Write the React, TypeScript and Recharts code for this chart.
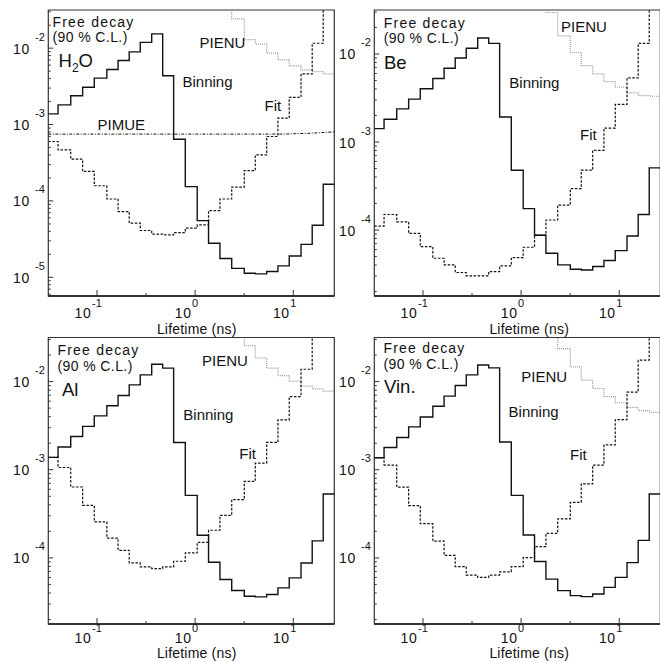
import React from 'react'
import { LineChart, Line, XAxis, YAxis, ReferenceArea } from 'recharts'

// bin edges (lifetime in ns), shared by all four panels
const EDGES = [
  0.0319, 0.0401, 0.054, 0.0714, 0.0938, 0.126, 0.164, 0.213, 0.276, 0.361, 0.467, 0.604, 0.794,
  1.05, 1.37, 1.79, 2.36, 3.17, 4.1, 5.36, 6.98, 9.1, 12.0, 15.6, 20.2, 26.2,
]
const OVER = 0.1 // bin lies above the top of the frame

const X_MIN = 0.0319
const X_MAX = 26.2
const X_TICKS = [0.1, 0.316, 1, 3.16, 10]

const Y_RANGE_H2O: [number, number] = [5.69e-6, 3.16e-2]
const Y_RANGE: [number, number] = [1.78e-5, 3.16e-2]
const Y_DECADES_H2O = [1e-5, 1e-4, 1e-3, 1e-2]
const Y_DECADES = [1e-4, 1e-3, 1e-2]

// H2O
const H2O_BINNING = [
  1.38e-3, 1.81e-3, 2.38e-3, 3.08e-3, 4.05e-3, 5.26e-3, 6.89e-3, 8.95e-3, 1.19e-2, 1.54e-2, 4.35e-3,
  6.43e-4, 1.54e-4, 5.52e-5, 2.79e-5, 1.76e-5, 1.31e-5, 1.13e-5, 1.11e-5, 1.19e-5, 1.41e-5, 1.9e-5,
  2.7e-5, 4.8e-5, 1.65e-4,
]
const H2O_FIT = [
  6.0e-4, 4.67e-4, 3.52e-4, 2.43e-4, 1.58e-4, 1.06e-4, 7.26e-5, 5.12e-5, 4.1e-5, 3.67e-5, 3.6e-5,
  3.85e-5, 4.41e-5, 4.86e-5, 7.48e-5, 1.06e-4, 1.52e-4, 2.5e-4, 4.01e-4, 6.97e-4, 1.21e-3, 2.27e-3,
  4.61e-3, 1.16e-2, OVER,
]
const H2O_PIENU = [
  OVER, OVER, OVER, OVER, OVER, OVER, OVER, OVER, OVER, OVER, OVER, OVER, OVER, OVER, OVER, OVER,
  2.42e-2, 1.29e-2, 1.13e-2, 8.61e-3, 7.03e-3, 5.86e-3, 5.2e-3, 4.94e-3, 4.61e-3,
]
const PIMUE_X = [0.0319, 8, 15, 26.2]
const PIMUE_Y = [7.5e-4, 7.5e-4, 7.7e-4, 8.0e-4]

// Be
const BE_BINNING = [
  1.42e-3, 1.81e-3, 2.38e-3, 3.07e-3, 4.02e-3, 5.26e-3, 6.89e-3, 9.02e-3, 1.16e-2, 1.52e-2, 1.32e-2,
  1.92e-3, 4.78e-4, 1.75e-4, 8.71e-5, 5.45e-5, 4.02e-5, 3.59e-5, 3.52e-5, 3.85e-5, 4.5e-5, 5.83e-5,
  8.55e-5, 1.5e-4, 5.08e-4,
]
const BE_FIT = [
  1.11e-4, 1.5e-4, 1.24e-4, 9.16e-5, 6.47e-5, 4.78e-5, 4.02e-5, 3.29e-5, 3.01e-5, 3.01e-5, 3.37e-5,
  3.91e-5, 4.86e-5, 6.37e-5, 8.77e-5, 1.3e-4, 1.92e-4, 2.96e-4, 4.78e-4, 8.05e-4, 1.44e-3, 2.67e-3,
  5.35e-3, 1.32e-2, OVER,
]
const BE_PIENU = [
  OVER, OVER, OVER, OVER, OVER, OVER, OVER, OVER, OVER, OVER, OVER, OVER, OVER, OVER, OVER,
  2.96e-2, 1.61e-2, 1.04e-2, 7.36e-3, 5.94e-3, 4.85e-3, 4.19e-3, 3.61e-3, 3.37e-3, 3.31e-3,
]

// Al
const AL_BINNING = [
  1.38e-3, 1.81e-3, 2.38e-3, 3.1e-3, 4.08e-3, 5.31e-3, 6.95e-3, 9.16e-3, 1.19e-2, 1.57e-2, 1.42e-2,
  2.04e-3, 5.12e-4, 1.81e-4, 8.93e-5, 5.69e-5, 4.27e-5, 3.68e-5, 3.61e-5, 3.85e-5, 4.57e-5, 5.94e-5,
  8.77e-5, 1.56e-4, 5.31e-4,
]
const AL_FIT = [
  1.38e-3, 1.06e-3, 6.37e-4, 3.94e-4, 2.56e-4, 1.68e-4, 1.22e-4, 8.77e-5, 7.91e-5, 7.57e-5, 7.91e-5,
  9.16e-5, 1.14e-4, 1.5e-4, 2.06e-4, 3.04e-4, 4.57e-4, 7.38e-4, 1.19e-3, 2.04e-3, 3.68e-3, 6.76e-3,
  1.38e-2, OVER, OVER,
]
const AL_PIENU = [
  OVER, OVER, OVER, OVER, OVER, OVER, OVER, OVER, OVER, OVER, OVER, OVER, OVER, OVER, OVER, OVER, OVER,
  2.56e-2, 1.85e-2, 1.42e-2, 1.17e-2, 1.01e-2, 8.87e-3, 8.26e-3, 7.78e-3,
]

// Vin.
const VIN_BINNING = [
  1.37e-3, 1.79e-3, 2.32e-3, 3.06e-3, 3.96e-3, 5.24e-3, 6.84e-3, 9.02e-3, 1.19e-2, 1.54e-2, 1.43e-2,
  2.06e-3, 5.12e-4, 1.82e-4, 9.1e-5, 5.75e-5, 4.26e-5, 3.73e-5, 3.64e-5, 3.9e-5, 4.63e-5, 6.01e-5,
  8.85e-5, 1.58e-4, 5.3e-4,
]
const VIN_FIT = [
  1.37e-3, 1.13e-3, 6.35e-4, 3.92e-4, 2.45e-4, 1.55e-4, 1.07e-4, 7.98e-5, 6.38e-5, 6.0e-5, 6.38e-5,
  6.95e-5, 7.98e-5, 1.01e-4, 1.34e-4, 1.9e-4, 2.77e-4, 4.27e-4, 6.93e-4, 1.13e-3, 1.91e-3, 3.7e-3,
  7.59e-3, 1.75e-2, OVER,
]
const VIN_PIENU = [
  OVER, OVER, OVER, OVER, OVER, OVER, OVER, OVER, OVER, OVER, OVER, OVER, OVER, OVER, OVER, OVER,
  2.36e-2, 1.47e-2, 1.04e-2, 8.34e-3, 6.73e-3, 5.75e-3, 5.09e-3, 4.68e-3, 4.48e-3,
]

const FONT = '"Liberation Sans", Arial, Helvetica, sans-serif'
const INK = '#111'
const AXIS = '#333'

// one point per bin edge, last bin repeated so stepAfter closes it
const steps = (vals: number[]) => [
  ...vals.map((v, i) => ({ x: EDGES[i], y: v })),
  { x: EDGES[EDGES.length - 1], y: vals[vals.length - 1] },
]

// decades plus 2..9 subdivisions inside the range
function logTicks(range: [number, number], decades: number[]) {
  const out: number[] = []
  for (const d of [decades[0] / 10, ...decades]) {
    for (let m = 1; m < 10; m++) {
      const v = m === 1 ? d : m * d
      if (v >= range[0] && v <= range[1]) out.push(v)
    }
  }
  return out
}

function XTick(props: any) {
  const { x, y, payload, dy10, dySup } = props
  const e = Math.log10(payload.value)
  const major = Math.abs(e - Math.round(e)) < 0.01
  const exp = String(Math.round(e))
  const half = exp.length > 1 ? 5.6 : 3.5
  return (
    <g>
      <line x1={x} x2={x} y1={y} y2={y - (major ? 6 : 3)} stroke={AXIS} strokeWidth={1} />
      {major && (
        <>
          <text x={x - half} y={y + dy10} textAnchor="end" fontSize={14} fontFamily={FONT} fill={INK} letterSpacing={0.6}>
            10
          </text>
          <text x={x} y={y + dySup} textAnchor="middle" fontSize={11} fontFamily={FONT} fill={INK}>
            {exp}
          </text>
        </>
      )}
    </g>
  )
}

function YTick(props: any) {
  const { x, y, payload, decades } = props
  const major = decades.includes(payload.value)
  const exp = String(Math.round(Math.log10(payload.value)))
  return (
    <g>
      <line x1={x} x2={x + (major ? 5 : 2.5)} y1={y} y2={y} stroke={AXIS} strokeWidth={1} />
      {major && (
        <>
          <text x={x - 18.5} y={y + 5.5} textAnchor="end" fontSize={14} fontFamily={FONT} fill={INK} letterSpacing={0.6}>
            10
          </text>
          <text x={x - 3.5} y={y - 7.5} textAnchor="end" fontSize={11} fontFamily={FONT} fill={INK}>
            {exp}
          </text>
        </>
      )}
    </g>
  )
}

interface PanelProps {
  left: number
  top: number
  width: number
  height: number
  padTop: number
  padLeft: number
  padRight: number
  padBottom: number
  yRange: [number, number]
  decades: number[]
  binning: number[]
  fit: number[]
  pienu: number[]
  pimue?: { x: number; y: number }[]
  labelDy: [number, number]
}

function Panel(p: PanelProps) {
  const yTicks = logTicks(p.yRange, p.decades)
  return (
    <div style={{ position: 'absolute', left: p.left, top: p.top }}>
      <LineChart
        width={p.width}
        height={p.height}
        margin={{ top: p.padTop, right: p.padRight, bottom: 0, left: 0 }}
      >
        <XAxis
          dataKey="x"
          type="number"
          scale="log"
          domain={[X_MIN, X_MAX]}
          allowDataOverflow
          ticks={X_TICKS}
          interval={0}
          height={p.padBottom}
          tickSize={0}
          tickMargin={0}
          tickLine={false}
          axisLine={{ stroke: AXIS, strokeWidth: 2 }}
          tick={(t: any) => <XTick {...t} dy10={p.labelDy[0]} dySup={p.labelDy[1]} />}
        />
        <YAxis
          dataKey="y"
          type="number"
          scale="log"
          domain={p.yRange}
          allowDataOverflow
          ticks={yTicks}
          interval={0}
          width={p.padLeft}
          tickSize={0}
          tickMargin={0}
          tickLine={false}
          axisLine={false}
          tick={(t: any) => <YTick {...t} decades={p.decades} />}
        />
        <ReferenceArea
          x1={X_MIN}
          x2={X_MAX}
          y1={p.yRange[0]}
          y2={p.yRange[1]}
          fill="none"
          fillOpacity={0}
          stroke={AXIS}
          strokeWidth={1.2}
          ifOverflow="visible"
        />
        {p.pimue && (
          <Line
            data={p.pimue}
            dataKey="y"
            type="linear"
            stroke={INK}
            strokeWidth={1}
            strokeDasharray="3 1.5 1 1.5"
            dot={false}
            activeDot={false}
            isAnimationActive={false}
          />
        )}
        <Line
          data={steps(p.pienu)}
          dataKey="y"
          type="stepAfter"
          stroke="#9a9a9a"
          strokeWidth={1.2}
          strokeDasharray="1 1"
          dot={false}
          activeDot={false}
          isAnimationActive={false}
        />
        <Line
          data={steps(p.fit)}
          dataKey="y"
          type="stepAfter"
          stroke={INK}
          strokeWidth={1.2}
          strokeDasharray="2.5 1.6"
          dot={false}
          activeDot={false}
          isAnimationActive={false}
        />
        <Line
          data={steps(p.binning)}
          dataKey="y"
          type="stepAfter"
          stroke={INK}
          strokeWidth={1.4}
          dot={false}
          activeDot={false}
          isAnimationActive={false}
        />
      </LineChart>
    </div>
  )
}

const txt = { fontFamily: FONT, fill: INK, fontSize: 15 } as const
const note = { fontFamily: FONT, fill: INK, fontSize: 14 } as const

export default function App() {
  const pimue = PIMUE_X.map((x, i) => ({ x, y: PIMUE_Y[i] }))

  return (
    <div
      style={{
        position: 'absolute',
        left: 0,
        top: 0,
        width: 660,
        height: 662,
        overflow: 'hidden',
        background: '#fff',
      }}
    >
      <Panel left={0} top={0} width={340} height={336} padTop={10} padLeft={48.3} padRight={5.7} padBottom={40}
        yRange={Y_RANGE_H2O} decades={Y_DECADES_H2O} binning={H2O_BINNING} fit={H2O_FIT} pienu={H2O_PIENU}
        pimue={pimue} labelDy={[21.5, 10.5]} />
      <Panel left={335} top={0} width={330} height={336} padTop={10} padLeft={39.3} padRight={4.7} padBottom={40}
        yRange={Y_RANGE} decades={Y_DECADES} binning={BE_BINNING} fit={BE_FIT} pienu={BE_PIENU}
        labelDy={[21.5, 10.5]} />
      <Panel left={0} top={330} width={340} height={332} padTop={7.5} padLeft={48.3} padRight={5.7} padBottom={38}
        yRange={Y_RANGE} decades={Y_DECADES} binning={AL_BINNING} fit={AL_FIT} pienu={AL_PIENU}
        labelDy={[18.5, 7.8]} />
      <Panel left={335} top={330} width={330} height={332} padTop={7.5} padLeft={39.3} padRight={4.7} padBottom={38}
        yRange={Y_RANGE} decades={Y_DECADES} binning={VIN_BINNING} fit={VIN_FIT} pienu={VIN_PIENU}
        labelDy={[18.5, 7.8]} />

      <svg width={660} height={662} style={{ position: 'absolute', left: 0, top: 0, pointerEvents: 'none' }}>
        {/* H2O */}
        <text x={52.5} y={26.5} {...note} letterSpacing={1.2}>Free decay</text>
        <text x={52.5} y={42.3} {...note} letterSpacing={0.4}>(90 % C.L.)</text>
        <text x={58.5} y={67} {...txt} fontSize={18.5}>
          H<tspan dy={5} fontSize={12}>2</tspan>
          <tspan dy={-5} fontSize={18.5}>O</tspan>
        </text>
        <text x={199.5} y={48.3} {...txt}>PIENU</text>
        <text x={182.5} y={86.5} {...txt}>Binning</text>
        <text x={264.5} y={110.7} {...txt}>Fit</text>
        <text x={97.5} y={130} {...txt}>PIMUE</text>

        {/* Be */}
        <text x={383.8} y={27.5} {...note} letterSpacing={1.2}>Free decay</text>
        <text x={383.8} y={43.3} {...note} letterSpacing={0.4}>(90 % C.L.)</text>
        <text x={384} y={68.5} {...txt} fontSize={18.5}>Be</text>
        <text x={561} y={32} {...txt}>PIENU</text>
        <text x={509.3} y={88.3} {...txt}>Binning</text>
        <text x={580} y={140} {...txt}>Fit</text>

        {/* Al */}
        <text x={57.5} y={355} {...note} letterSpacing={1.2}>Free decay</text>
        <text x={57.5} y={370.8} {...note} letterSpacing={0.4}>(90 % C.L.)</text>
        <text x={62} y={396} {...txt} fontSize={18.5}>Al</text>
        <text x={202} y={366} {...txt}>PIENU</text>
        <text x={183.3} y={420} {...txt}>Binning</text>
        <text x={239.3} y={459} {...txt}>Fit</text>

        {/* Vin. */}
        <text x={383.5} y={353} {...note} letterSpacing={1.2}>Free decay</text>
        <text x={383.5} y={368.8} {...note} letterSpacing={0.4}>(90 % C.L.)</text>
        <text x={384} y={393} {...txt} fontSize={18.5}>Vin.</text>
        <text x={521.3} y={382.3} {...txt}>PIENU</text>
        <text x={508.6} y={417.3} {...txt}>Binning</text>
        <text x={570} y={460} {...txt}>Fit</text>

        {/* axis titles */}
        <text x={236.5} y={333.5} {...note} textAnchor="end" letterSpacing={0.2}>Lifetime (ns)</text>
        <text x={569} y={333.5} {...note} textAnchor="end" letterSpacing={0.2}>Lifetime (ns)</text>
        <text x={236.5} y={658.3} {...note} textAnchor="end" letterSpacing={0.2}>Lifetime (ns)</text>
        <text x={569} y={658.3} {...note} textAnchor="end" letterSpacing={0.2}>Lifetime (ns)</text>
      </svg>
    </div>
  )
}
